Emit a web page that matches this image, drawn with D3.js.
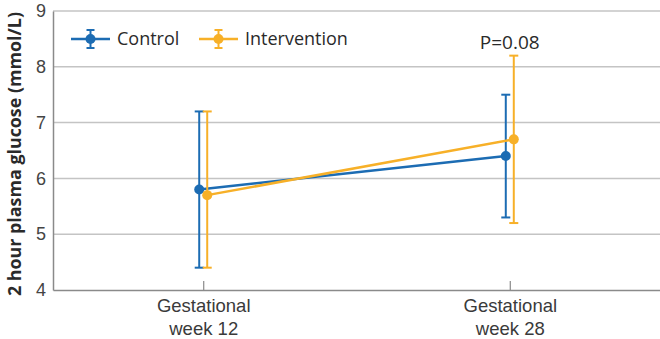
<!DOCTYPE html>
<html>
<head>
<meta charset="utf-8">
<script src="https://cdn.jsdelivr.net/npm/d3@7"></script>
<style>
  body { margin: 0; background: #fff; }
  svg { display: block; font-family: "Open Sans", "Noto Sans", sans-serif; }
</style>
</head>
<body>
<svg id="chart"></svg>
<script>
// Chart size
var svg_width = 660, svg_height = 339;
var margin = { top: 11, right: 0, bottom: 49, left: 53 };
var width = svg_width - margin.left - margin.right;
var height = svg_height - margin.top - margin.bottom;

// Data
var timepoints = ["Gestational week 12", "Gestational week 28"];
var groups = ["Control", "Intervention"];
var controlMean = [5.8, 6.4];
var controlLow = [4.4, 5.3];
var controlHigh = [7.2, 7.5];
var interventionMean = [5.7, 6.7];
var interventionLow = [4.4, 5.2];
var interventionHigh = [7.2, 8.2];
var yTicks = [4, 5, 6, 7, 8, 9];
var pLabel = "P=0.08";

var colors = { "Control": "#1c6cb3", "Intervention": "#f7b028" };
var offsets = { "Control": -4, "Intervention": 4 };

var series = [
	{ name: "Control", mean: controlMean, low: controlLow, high: controlHigh },
	{ name: "Intervention", mean: interventionMean, low: interventionLow, high: interventionHigh }
];

var x = d3.scalePoint().domain(timepoints).range([0, width]).padding(0.49);
var y = d3.scaleLinear().domain([4, 9]).range([height, 0]);

var svg = d3.select("#chart")
	.attr("width", svg_width)
	.attr("height", svg_height);

var g = svg.append("g")
	.attr("transform", "translate(" + margin.left + "," + margin.top + ")");

// Gridlines
g.append("g")
	.selectAll("line")
	.data(yTicks.filter(function (d) { return d > 4; }))
	.enter().append("line")
	.attr("x1", 0)
	.attr("x2", width)
	.attr("y1", function (d) { return y(d); })
	.attr("y2", function (d) { return y(d); })
	.attr("stroke", "#c4c4c4")
	.attr("stroke-width", 1.5);

// Y axis
var yAxis = g.append("g")
	.call(d3.axisLeft(y).tickValues(yTicks).tickSize(0).tickPadding(7).tickFormat(d3.format("d")));
yAxis.select(".domain").attr("stroke", "#8a8a8a").attr("stroke-width", 1.5);
yAxis.selectAll("text").attr("font-size", 18).attr("fill", "#444");

// X axis
var xAxis = g.append("g")
	.attr("transform", "translate(0," + height + ")")
	.call(d3.axisBottom(x).tickSize(9).tickSizeOuter(0).tickFormat(""));
xAxis.select(".domain").attr("stroke", "#8a8a8a").attr("stroke-width", 1.5);
xAxis.selectAll(".tick line").attr("stroke", "#8a8a8a").attr("stroke-width", 1.2)
	.attr("y1", -9).attr("y2", 0);

xAxis.selectAll(".tick").each(function (d) {
	var words = d.split(" ");
	var t = d3.select(this).append("text")
		.attr("fill", "#3a3a3a")
		.attr("font-size", 18.5)
		.attr("text-anchor", "middle");
	t.append("tspan").attr("x", 0).attr("y", 22).text(words[0]);
	t.append("tspan").attr("x", 0).attr("y", 45).text(words.slice(1).join(" "));
});

// Y axis title
g.append("text")
	.attr("transform", "rotate(-90)")
	.attr("x", -(height + margin.top - 6) / 2 - 1)
	.attr("y", -32)
	.attr("text-anchor", "middle")
	.attr("font-size", 17)
	.attr("font-weight", "bold")
	.attr("fill", "#2a2a2a")
	.attr("textLength", 284)
	.attr("lengthAdjust", "spacingAndGlyphs")
	.text("2 hour plasma glucose (mmol/L)");

// Lines, error bars and points for each group
series.forEach(function (s) {
	var c = colors[s.name];
	var dx = offsets[s.name];
	var pts = timepoints.map(function (t, i) {
		return { t: t, mean: s.mean[i], low: s.low[i], high: s.high[i] };
	});
	var sg = g.append("g");

	sg.append("path")
		.datum(pts)
		.attr("fill", "none")
		.attr("stroke", c)
		.attr("stroke-width", 2.5)
		.attr("d", d3.line()
			.x(function (d) { return x(d.t) + dx; })
			.y(function (d) { return y(d.mean); }));

	var bars = sg.selectAll(".bar").data(pts).enter().append("g");
	bars.append("line")
		.attr("x1", function (d) { return x(d.t) + dx; })
		.attr("x2", function (d) { return x(d.t) + dx; })
		.attr("y1", function (d) { return y(d.low); })
		.attr("y2", function (d) { return y(d.high); })
		.attr("stroke", c).attr("stroke-width", 2);
	["low", "high"].forEach(function (k) {
		bars.append("line")
			.attr("x1", function (d) { return x(d.t) + dx - 4.5; })
			.attr("x2", function (d) { return x(d.t) + dx + 4.5; })
			.attr("y1", function (d) { return y(d[k]); })
			.attr("y2", function (d) { return y(d[k]); })
			.attr("stroke", c).attr("stroke-width", 2);
	});
	bars.append("circle")
		.attr("cx", function (d) { return x(d.t) + dx; })
		.attr("cy", function (d) { return y(d.mean); })
		.attr("r", 5)
		.attr("fill", c);
});

// P value
g.append("text")
	.attr("x", x(timepoints[1]))
	.attr("y", 38)
	.attr("text-anchor", "middle")
	.attr("font-size", 19)
	.attr("fill", "#2a2a2a")
	.text(pLabel);

// Legend
var legendX = [18, 146];
var legend = g.selectAll(".legend")
	.data(groups)
	.enter().append("g")
	.attr("transform", function (d, i) { return "translate(" + legendX[i] + ",28)"; });
legend.append("line")
	.attr("x1", 0).attr("x2", 39)
	.attr("stroke", function (d) { return colors[d]; })
	.attr("stroke-width", 2.5);
legend.append("line")
	.attr("x1", 19.5).attr("x2", 19.5).attr("y1", -9).attr("y2", 9)
	.attr("stroke", function (d) { return colors[d]; })
	.attr("stroke-width", 2);
legend.selectAll(".cap")
	.data(function (d) { return [[d, -9], [d, 9]]; })
	.enter().append("line")
	.attr("x1", 15.5).attr("x2", 23.5)
	.attr("y1", function (d) { return d[1]; })
	.attr("y2", function (d) { return d[1]; })
	.attr("stroke", function (d) { return colors[d[0]]; })
	.attr("stroke-width", 2);
legend.append("circle")
	.attr("cx", 19.5).attr("r", 5)
	.attr("fill", function (d) { return colors[d]; });
legend.append("text")
	.attr("x", 46)
	.attr("y", 6)
	.attr("font-size", 18)
	.attr("fill", "#2a2a2a")
	.text(function (d) { return d; });
</script>
</body>
</html>
